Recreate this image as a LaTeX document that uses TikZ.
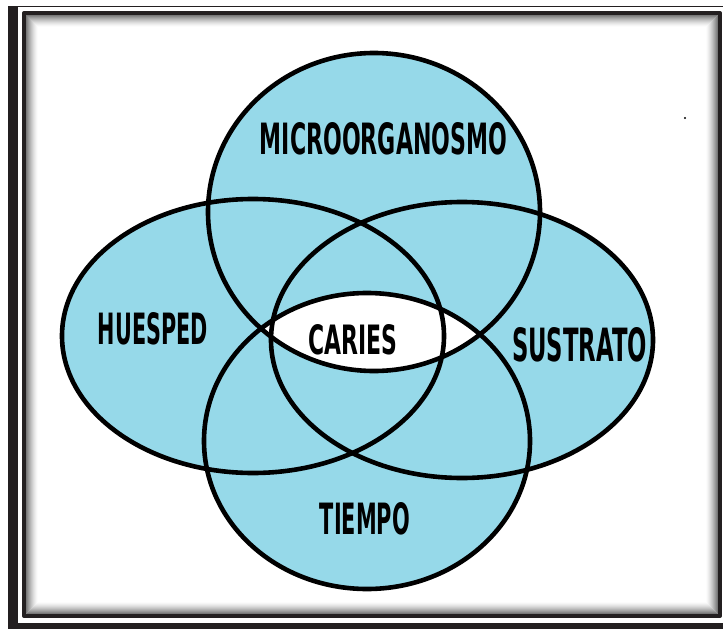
\documentclass[tikz,border=0pt]{standalone}
\usepackage{fontspec}
\usepackage{graphicx}
\newfontfamily\lblfont{DejaVu Sans}
\definecolor{vennblue}{RGB}{150,217,233}
\definecolor{framedark}{RGB}{35,31,32}
% label text squeezed into a box of given width and height (pt)
\newcommand\vennlbl[3]{\resizebox{#1pt}{#2pt}{\lblfont\bfseries #3}}
\tikzset{
  vennfill/.style={fill=vennblue},
  vennline/.style={draw=black, line width=4.6pt},
  lbl/.style={inner sep=0pt, text=black}
}
\begin{document}
\begin{tikzpicture}[x=1pt, y=-1pt, line join=round]
\useasboundingbox (0,0) rectangle (723,629);
\fill[white] (0,0) rectangle (723,629);

% outer frame: thick left bar, thin top rule, thick bottom rule
\fill[framedark] (8,5.5) rectangle (18,628.5);
\fill[framedark] (8,5.5) rectangle (723,7);
\fill[framedark] (18,623) rectangle (723,628.5);

% inner shadow of the inner frame
\foreach \i in {1,...,12} {
  \pgfmathsetmacro\g{60*(1-\i/13)^1.5}
  \draw[line width=1.2pt, black!\g] (26+\i-0.5, 15+\i-0.5) rectangle (718-\i+0.5, 614-\i+0.5);
}
% inner frame
\draw[line width=4pt, framedark] (24,13) rectangle (720,616);

% the four sets
\def\topset{(374,212) ellipse [x radius=166, y radius=159]}
\def\botset{(367,441) ellipse [x radius=163, y radius=148]}
\def\leftset{(253,336) ellipse [x radius=191, y radius=137]}
\def\rightset{(462,340) ellipse [x radius=191, y radius=138]}

\fill[vennfill] \topset;
\fill[vennfill] \botset;
\fill[vennfill] \leftset;
\fill[vennfill] \rightset;

% common part of the two circles left white
\begin{scope}
  \clip \topset;
  \fill[white] \botset;
\end{scope}

\draw[vennline] \leftset;
\draw[vennline] \rightset;
\draw[vennline] \topset;
\draw[vennline] \botset;

% labels
\node[lbl] (micro)    at (383.5,139) {\vennlbl{247}{32}{MICROORGANOSMO}};
\node[lbl] (huesped)  at (153,329)   {\vennlbl{110}{32}{HUESPED}};
\node[lbl] (sustrato) at (579.5,345) {\vennlbl{135}{34}{SUSTRATO}};
\node[lbl] (caries)   at (352.5,340) {\vennlbl{89}{30}{CARIES}};
\node[lbl] (tiempo)   at (365,519)   {\vennlbl{90}{32}{TIEMPO}};

% stray dot
\fill[black] (685,118) circle (1.2pt);
\end{tikzpicture}
\end{document}
